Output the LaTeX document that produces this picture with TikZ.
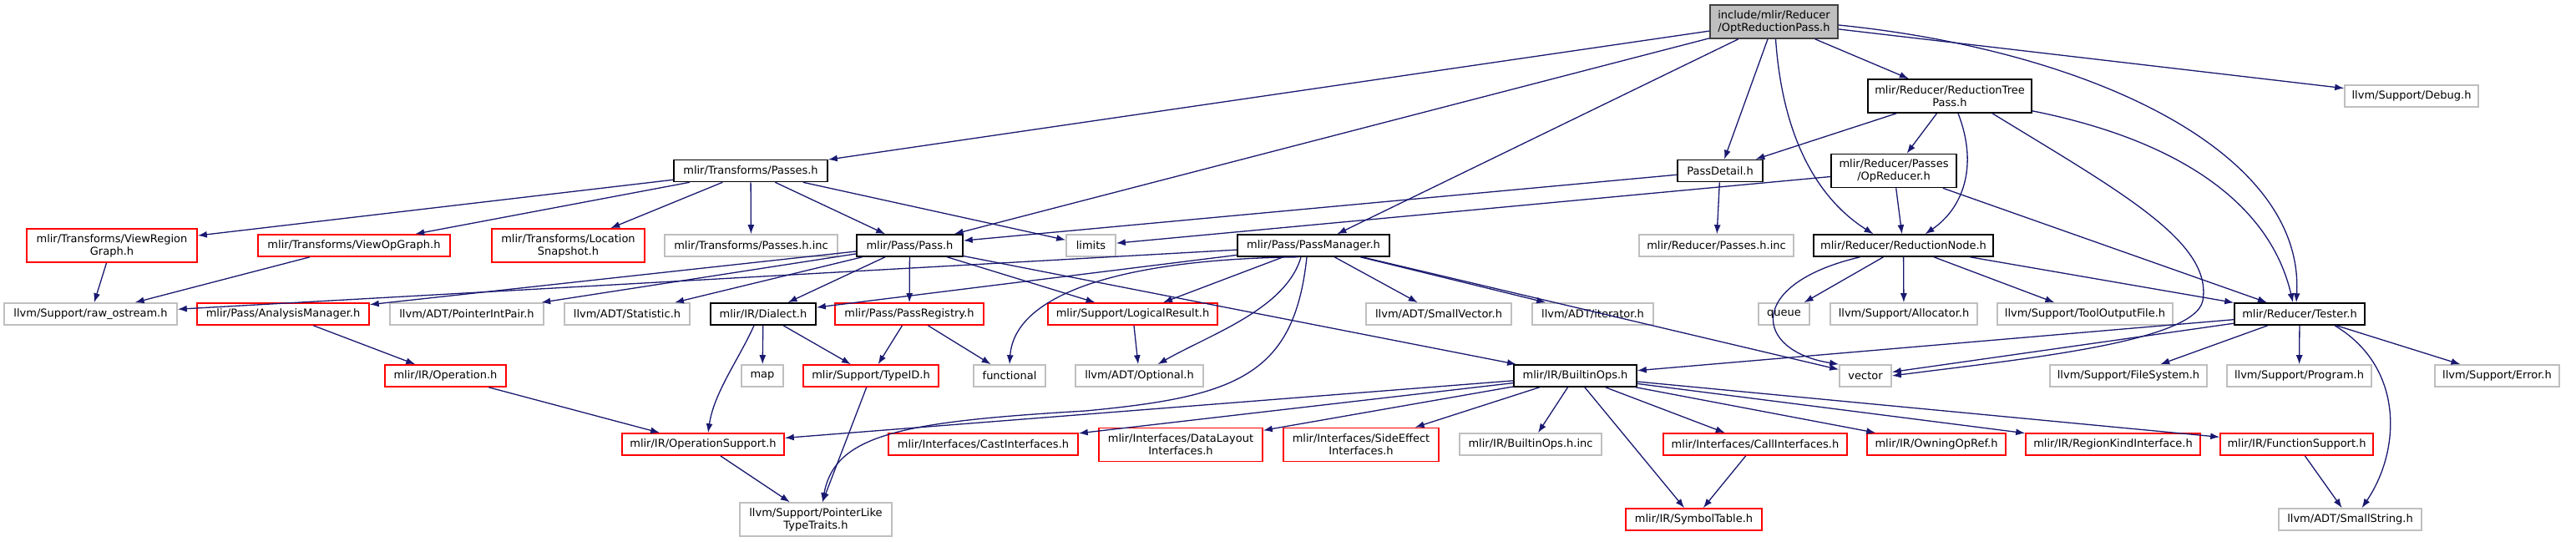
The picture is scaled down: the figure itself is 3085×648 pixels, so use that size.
\documentclass[tikz,border=0pt]{standalone}
\usepackage{fontspec}
\setmainfont{DejaVu Sans}
\usepackage{xcolor}
\usetikzlibrary{arrows.meta, calc}
\definecolor{edgeblue}{RGB}{25, 25, 112}
\definecolor{extgray}{RGB}{191, 191, 191}
\definecolor{rootfill}{RGB}{191, 191, 191}
\definecolor{rootedge}{RGB}{64, 64, 64}

\begin{document}
\begin{tikzpicture}[x=1pt, y=-1pt,
		file/.style={draw, line width=1.6pt, fill=white, inner sep=0pt, minimum height=26pt, align=center, font=\fontsize{13}{15}\selectfont},
		doc/.style={file, draw=black},
		trunc/.style={file, draw=red},
		ext/.style={file, draw=extgray},
		root/.style={file, draw=rootedge, fill=rootfill},
		tall/.style={minimum height=40pt},
		arrow/.style={-{Latex[length=11pt, width=8pt]}, line width=1.3pt, edgeblue}
	]
	\useasboundingbox (0,0) rectangle (3085,648);

	% Nodes, top rows
	\node[root, tall, minimum width=153pt] (opt) at (2124.5,26) {include/mlir/Reducer\\/OptReductionPass.h};
	\node[doc, tall, minimum width=196pt] (rtp) at (2335,115) {mlir/Reducer/ReductionTree\\Pass.h};
	\node[ext, minimum width=160pt] (debug) at (2888,115) {llvm/Support/Debug.h};
	\node[doc, minimum width=184pt] (passes) at (899,204.5) {mlir/Transforms/Passes.h};
	\node[doc, minimum width=102pt] (passdetail) at (2060,204.5) {PassDetail.h};
	\node[doc, tall, minimum width=150pt] (opreducer) at (2268,204.5) {mlir/Reducer/Passes\\/OpReducer.h};

	% Nodes, row 294
	\node[trunc, tall, minimum width=204pt] (viewregion) at (134,294) {mlir/Transforms/ViewRegion\\Graph.h};
	\node[trunc, minimum width=230pt] (viewop) at (424,294) {mlir/Transforms/ViewOpGraph.h};
	\node[trunc, tall, minimum width=183pt] (locsnap) at (680.5,294) {mlir/Transforms/Location\\Snapshot.h};
	\node[ext, minimum width=207pt] (passesinc) at (899.5,294) {mlir/Transforms/Passes.h.inc};
	\node[doc, minimum width=127pt] (pass) at (1089.5,294) {mlir/Pass/Pass.h};
	\node[ext, minimum width=59pt] (limits) at (1306.5,294) {limits};
	\node[doc, minimum width=182pt] (passmgr) at (1573,294) {mlir/Pass/PassManager.h};
	\node[ext, minimum width=185pt] (redpassesinc) at (2055.5,294) {mlir/Reducer/Passes.h.inc};
	\node[doc, minimum width=215pt] (rednode) at (2279.5,294) {mlir/Reducer/ReductionNode.h};

	% Nodes, row 376
	\node[ext, minimum width=207pt] (rawostream) at (108.5,376) {llvm/Support/raw\_ostream.h};
	\node[trunc, minimum width=206pt] (analysis) at (339,376) {mlir/Pass/AnalysisManager.h};
	\node[ext, minimum width=184pt] (ptrintpair) at (559,376) {llvm/ADT/PointerIntPair.h};
	\node[ext, minimum width=150pt] (statistic) at (751,376) {llvm/ADT/Statistic.h};
	\node[doc, minimum width=126pt] (dialect) at (914,376) {mlir/IR/Dialect.h};
	\node[trunc, minimum width=178pt] (passreg) at (1089,376) {mlir/Pass/PassRegistry.h};
	\node[trunc, minimum width=203pt] (logical) at (1356.5,376) {mlir/Support/LogicalResult.h};
	\node[ext, minimum width=174pt] (smallvec) at (1723,376) {llvm/ADT/SmallVector.h};
	\node[ext, minimum width=145pt] (iterator) at (1907.5,376) {llvm/ADT/iterator.h};
	\node[ext, minimum width=61pt] (queue) at (2136.5,376) {queue};
	\node[ext, minimum width=176pt] (allocator) at (2280,376) {llvm/Support/Allocator.h};
	\node[ext, minimum width=210pt] (tooloutput) at (2497,376) {llvm/Support/ToolOutputFile.h};
	\node[doc, minimum width=156pt] (tester) at (2754,376) {mlir/Reducer/Tester.h};

	% Nodes, row 450
	\node[trunc, minimum width=145pt] (operation) at (533.5,450) {mlir/IR/Operation.h};
	\node[ext, minimum width=50pt] (map) at (913,450) {map};
	\node[trunc, minimum width=162pt] (typeid) at (1043,450) {mlir/Support/TypeID.h};
	\node[ext, minimum width=86pt] (functional) at (1209,450) {functional};
	\node[ext, minimum width=153pt] (optional) at (1364.5,450) {llvm/ADT/Optional.h};
	\node[doc, minimum width=147pt] (builtinops) at (1886.5,450) {mlir/IR/BuiltinOps.h};
	\node[ext, minimum width=62pt] (vector) at (2234,450) {vector};
	\node[ext, minimum width=188pt] (filesystem) at (2549,450) {llvm/Support/FileSystem.h};
	\node[ext, minimum width=173pt] (program) at (2753.5,450) {llvm/Support/Program.h};
	\node[ext, minimum width=149pt] (error) at (2990.5,450) {llvm/Support/Error.h};

	% Nodes, row 532
	\node[trunc, minimum width=194pt] (opsupport) at (842,532) {mlir/IR/OperationSupport.h};
	\node[trunc, minimum width=227pt] (cast) at (1177.5,532) {mlir/Interfaces/CastInterfaces.h};
	\node[trunc, tall, minimum width=196pt] (datalayout) at (1414,532.5) {mlir/Interfaces/DataLayout\\Interfaces.h};
	\node[trunc, tall, minimum width=186pt] (sideeffect) at (1630,532.5) {mlir/Interfaces/SideEffect\\Interfaces.h};
	\node[ext, minimum width=170pt] (builtinopsinc) at (1833,532) {mlir/IR/BuiltinOps.h.inc};
	\node[trunc, minimum width=220pt] (callif) at (2102,532) {mlir/Interfaces/CallInterfaces.h};
	\node[trunc, minimum width=166pt] (owning) at (2319,532) {mlir/IR/OwningOpRef.h};
	\node[trunc, minimum width=209pt] (regionkind) at (2530.5,532) {mlir/IR/RegionKindInterface.h};
	\node[trunc, minimum width=183pt] (funcsupport) at (2750.5,532) {mlir/IR/FunctionSupport.h};

	% Nodes, bottom row
	\node[ext, tall, minimum width=182pt] (ptrlike) at (977,622) {llvm/Support/PointerLike\\TypeTraits.h};
	\node[trunc, minimum width=163pt] (symtable) at (2028.5,622) {mlir/IR/SymbolTable.h};
	\node[ext, minimum width=171pt] (smallstring) at (2814.5,622) {llvm/ADT/SmallString.h};

	% Arrows from the root
	\draw[arrow] (opt) -- (passes);
	\draw[arrow] (opt) -- (pass);
	\draw[arrow] (opt) -- (passmgr);
	\draw[arrow] (opt) -- (passdetail);
	\draw[arrow] ([xshift=2pt]opt.south) .. controls (2135,170) and (2180,240) .. ([xshift=-36pt]rednode.north);
	\draw[arrow] (opt) -- (rtp);
	\draw[arrow] ([yshift=-4pt]opt.east) .. controls (2500,60) and (2760,180) .. ([xshift=-4pt]tester.north);
	\draw[arrow] (opt) -- (debug);

	% Arrows, reducer headers
	\draw[arrow] (rtp) -- (passdetail);
	\draw[arrow] (rtp) -- (opreducer);
	\draw[arrow] ([xshift=10pt]rtp.south) .. controls (2370,200) and (2350,250) .. ([xshift=26pt]rednode.north);
	\draw[arrow] ([xshift=51pt]rtp.south) .. controls (2540,230) and (2650,290) .. (2638,360)
		.. controls (2628,410) and (2420,430) .. (vector.east);
	\draw[arrow] ([yshift=3pt]rtp.south east) .. controls (2620,170) and (2720,250) .. ([xshift=-8pt]tester.north);
	\draw[arrow] (opreducer) -- (limits);
	\draw[arrow] (opreducer) -- (rednode);
	\draw[arrow] (opreducer) -- (tester);
	\draw[arrow] (passdetail) -- (pass);
	\draw[arrow] (passdetail) -- (redpassesinc);

	% Arrows, transforms
	\draw[arrow] (passes) -- (viewregion);
	\draw[arrow] (passes) -- (viewop);
	\draw[arrow] (passes) -- (locsnap);
	\draw[arrow] (passes) -- (passesinc);
	\draw[arrow] (passes) -- (pass);
	\draw[arrow] (passes) -- (limits);
	\draw[arrow] (viewregion) -- (rawostream);
	\draw[arrow] (viewop) -- (rawostream);

	% Arrows, pass headers
	\draw[arrow] (pass) -- (analysis);
	\draw[arrow] (pass) -- (ptrintpair);
	\draw[arrow] (pass) -- (statistic);
	\draw[arrow] (pass) -- (dialect);
	\draw[arrow] (pass) -- (passreg);
	\draw[arrow] (pass) -- (logical);
	\draw[arrow] (pass) -- (builtinops);
	\draw[arrow] (passmgr) -- (rawostream);
	\draw[arrow] (passmgr) -- (dialect);
	\draw[arrow] (passmgr) -- (logical);
	\draw[arrow] ([xshift=-18pt]passmgr.south) .. controls (1350,310) and (1215,350) .. (functional.north);
	\draw[arrow] ([xshift=-15pt]passmgr.south) .. controls (1540,370) and (1450,400) .. ([xshift=22pt]optional.north);
	\draw[arrow] ([xshift=-8pt]passmgr.south) .. controls (1550,450) and (1480,475) .. (1300,492)
		.. controls (1080,505) and (1000,520) .. ([xshift=8pt]ptrlike.north);
	\draw[arrow] (passmgr) -- (smallvec);
	\draw[arrow] (passmgr) -- (iterator);
	\draw[arrow] (passmgr) -- (vector);

	% Arrows, IR headers
	\draw[arrow] ([xshift=-11pt]dialect.south) .. controls (885,430) and (855,470) .. ([xshift=6pt]opsupport.north);
	\draw[arrow] (dialect) -- (map);
	\draw[arrow] (dialect) -- (typeid);
	\draw[arrow] (passreg) -- (typeid);
	\draw[arrow] (passreg) -- (functional);
	\draw[arrow] (logical) -- (optional);
	\draw[arrow] (analysis) -- (operation);
	\draw[arrow] (operation) -- (opsupport);
	\draw[arrow] (opsupport) -- (ptrlike);
	\draw[arrow] (typeid) -- (ptrlike);
	\foreach \dst in {opsupport, cast, datalayout, sideeffect, builtinopsinc, symtable, callif, owning, regionkind, funcsupport}
		\draw[arrow] (builtinops) -- (\dst);
	\draw[arrow] (callif) -- (symtable);
	\draw[arrow] (funcsupport) -- (smallstring);

	% Arrows, reduction node and tester
	\draw[arrow] (rednode) -- (queue);
	\draw[arrow] (rednode) -- (allocator);
	\draw[arrow] (rednode) -- (tooloutput);
	\draw[arrow] (rednode) -- (tester);
	\draw[arrow] ([xshift=-52pt]rednode.south) .. controls (2090,340) and (2100,420) .. (vector.north west);
	\draw[arrow] (tester) -- (builtinops);
	\draw[arrow] (tester) -- (vector);
	\draw[arrow] (tester) -- (filesystem);
	\draw[arrow] (tester) -- (program);
	\draw[arrow] (tester) -- (error);
	\draw[arrow] ([xshift=42pt]tester.south) .. controls (2880,440) and (2875,540) .. ([xshift=14pt]smallstring.north);

\end{tikzpicture}
\end{document}
